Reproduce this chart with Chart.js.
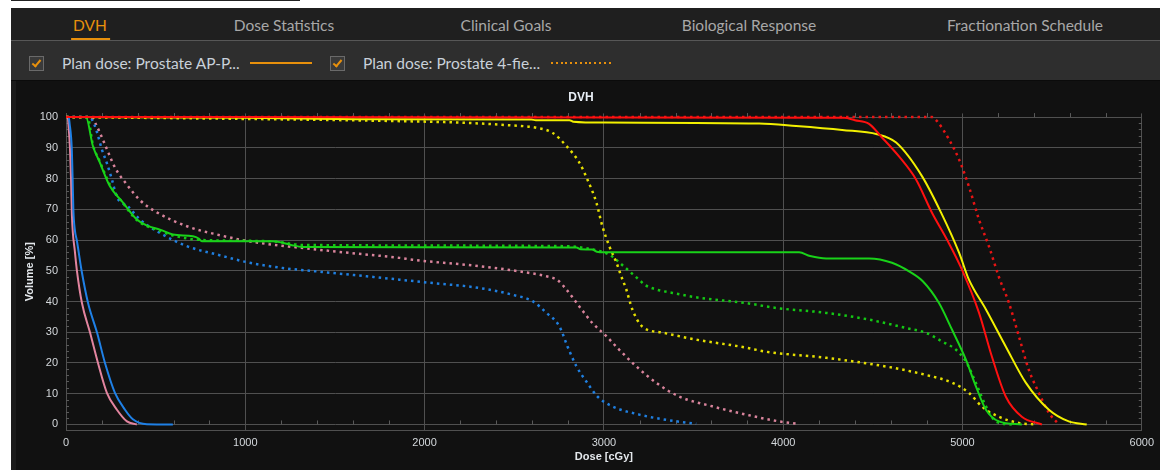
<!DOCTYPE html>
<html>
<head>
<meta charset="utf-8">
<title>DVH</title>
<script src="https://cdn.jsdelivr.net/npm/chart.js@4.4.0/dist/chart.umd.min.js"></script>
<style>
  html, body { margin: 0; padding: 0; background: #fff; width: 1160px; height: 470px; overflow: hidden; }
  .topline { position: absolute; left: 11px; top: 0; width: 289px; height: 1px; background: #222; }
  .panel { position: absolute; left: 11px; top: 8px; width: 1149px; height: 462px; background: #111; }
  .tabs { position: absolute; left: 0; top: 0; width: 100%; height: 32px; background: #1f1f1f; border-bottom: 1px solid #575757; }
  .tab { position: absolute; top: 0; font: 15.5px Lato, sans-serif; line-height: 35px; transform: translateX(-50%); color: #a8a8a8; white-space: nowrap; }
  .tab.active { color: #e8900c; }
  .tab.active::after { content: ''; position: absolute; left: -2px; right: -3px; bottom: 3px; height: 2px; background: #e8900c; }
  .legendrow { position: absolute; left: 0; top: 33px; width: 100%; height: 39px; background: #2e2e2e; border-bottom: 1px solid #0b0b0b; }
  .chk { position: absolute; top: 15px; width: 13px; height: 13px; border: 1px solid #6a6a6a; background: #3a3a3a; }
  .chk::after { content: ''; position: absolute; left: 4px; top: 1px; width: 3px; height: 7px; border-right: 2px solid #e8900c; border-bottom: 2px solid #e8900c; transform: rotate(40deg); }
  .ltext { position: absolute; top: 0; font: 15.5px Lato, sans-serif; line-height: 44px; color: #c9d1da; white-space: nowrap; }
  .lsolid { position: absolute; top: 21px; height: 2px; background: #e8900c; }
  .ldot { position: absolute; top: 21px; height: 2px; background: repeating-linear-gradient(90deg, #e8900c 0 2px, transparent 2px 4.8px); }
  .chartbox { position: absolute; left: 0; top: 73px; width: 1149px; height: 389px; background: #111; border-left: 5px solid #1b1b1b; box-sizing: border-box; }
  .chartwrap { position: absolute; left: 9px; top: 73px; width: 1140px; height: 389px; }
</style>
</head>
<body>
<div class="topline"></div>
<div class="panel">
  <div class="tabs">
    <div class="tab active" style="left:79px">DVH</div>
    <div class="tab" style="left:273px">Dose Statistics</div>
    <div class="tab" style="left:495px">Clinical Goals</div>
    <div class="tab" style="left:738px">Biological Response</div>
    <div class="tab" style="left:1014px">Fractionation Schedule</div>
  </div>
  <div class="legendrow">
    <div class="chk" style="left:18px"></div>
    <div class="ltext" style="left:51px">Plan dose: Prostate AP-P...</div>
    <div class="lsolid" style="left:239px; width:62px"></div>
    <div class="chk" style="left:319px"></div>
    <div class="ltext" style="left:352px">Plan dose: Prostate 4-fie...</div>
    <div class="ldot" style="left:540px; width:62px"></div>
  </div>
  <div class="chartbox"></div>
  <div class="chartwrap"><canvas id="dvhChart"></canvas></div>
</div>

<script>
// === DATOS ===
const xTickValues = [0, 1000, 2000, 3000, 4000, 5000, 6000];
const yTickValues = [0, 10, 20, 30, 40, 50, 60, 70, 80, 90, 100];

// plan 1 (linea continua)
const redApDose = [0, 4340, 4400, 4479, 4546, 4646, 4741, 4830, 4914, 4997, 5092, 5164, 5242, 5331, 5443];
const redApVol  = [100, 99.8, 99.0, 97.8, 93.7, 87.2, 79.7, 68.9, 60.1, 50.4, 36.4, 22.1, 9.0, 2.5, 0];

const yellowApDose = [0, 1000, 1749, 2596, 2620, 2808, 2830, 3003, 3866, 4072, 4329, 4524, 4630, 4774, 4880, 4981, 5036, 5131, 5242, 5353, 5482, 5593, 5693];
const yellowApVol  = [100, 99.8, 99.3, 99.2, 99.0, 99.0, 98.5, 98.2, 97.9, 97.1, 95.8, 94.4, 91.7, 80.8, 69.0, 55.9, 47.1, 37.4, 25.3, 13.6, 4.8, 1.0, 0];

const greenApDose = [0, 111, 150, 189, 245, 318, 395, 460, 524, 596, 708, 740, 758, 1155, 1250, 1320, 2847, 2870, 2936, 2960, 3003, 4089, 4150, 4240, 4479, 4607, 4702, 4780, 4869, 4942, 5019, 5075, 5131, 5203, 5331];
const greenApVol  = [100, 100, 90.6, 85.2, 77.5, 72.2, 66.7, 64.5, 63.4, 61.8, 61.2, 60.5, 59.6, 59.6, 58.5, 57.7, 57.6, 57.0, 56.9, 56.2, 56.0, 56.0, 54.8, 54.0, 54.0, 52.6, 49.8, 46.5, 39.5, 30.8, 21.1, 12.4, 4.8, 1.0, 0];

const blueApDose = [0, 15, 20, 32, 37, 41, 50, 60, 87, 123, 173, 217, 273, 329, 373, 451, 596];
const blueApVol  = [100, 100, 98, 90, 80, 70, 63, 60, 50, 39.5, 29.9, 20.1, 10.3, 4.8, 1.7, 0.1, 0];

const pinkApDose = [0, 10, 13, 22, 28, 33, 50, 61, 89, 134, 178, 228, 284, 340, 395];
const pinkApVol  = [100, 100, 98, 90, 80, 68, 56, 50, 39.5, 29.9, 20.1, 10.3, 4.8, 1.0, 0];

// plan 2 (punteada)
const red4fDose = [0, 4830, 4858, 4925, 4981, 5036, 5092, 5148, 5203, 5259, 5315, 5370, 5426, 5482, 5538];
const red4fVol  = [100, 100, 98.7, 92.7, 86.2, 77.4, 66.7, 57.9, 48.0, 39.6, 28.6, 17.8, 10.3, 3.8, 0];

const yellow4fDose = [0, 1000, 1749, 2195, 2457, 2624, 2713, 2791, 2863, 2908, 2958, 2992, 3031, 3070, 3095, 3125, 3159, 3215, 3326, 3515, 3794, 3900, 4240, 4607, 4797, 4942, 5036, 5109, 5203, 5315, 5409];
const yellow4fVol  = [100, 99.4, 98.8, 98.2, 97.4, 96.5, 94.9, 90.6, 85.2, 79.7, 72.2, 64.4, 57.9, 52.7, 48.5, 43.9, 37.4, 31.8, 29.9, 27.6, 25.0, 23.7, 21.7, 18.5, 16.1, 13.6, 10.3, 5.8, 2.5, 0.5, 0];

const green4fDose = [0, 120, 150, 189, 245, 318, 395, 524, 596, 760, 1150, 1320, 2800, 2930, 3000, 3050, 3086, 3159, 3198, 3226, 3293, 3382, 3532, 3794, 3961, 4240, 4479, 4685, 4797, 4886, 4964, 5019, 5075, 5131, 5186, 5276];
const green4fVol  = [100, 100, 91, 85.5, 78, 72, 66.5, 63, 61.5, 60, 59.6, 58.4, 58, 57, 56, 54.5, 52.7, 49, 47, 45.5, 43.9, 42.8, 41.2, 39.5, 37.9, 36.3, 34.1, 31.4, 29.8, 27, 24.3, 20.5, 13.5, 5.9, 1.0, 0];

const blue4fDose = [0, 120, 145, 173, 200, 228, 256, 284, 345, 412, 524, 674, 841, 1025, 1209, 1398, 1677, 1861, 2028, 2306, 2490, 2602, 2680, 2752, 2797, 2847, 2902, 2964, 3047, 3198, 3348, 3515];
const blue4fVol  = [100, 100, 99.2, 95, 89.5, 85, 79.7, 74, 71, 66.7, 62.3, 58, 55.3, 52.6, 50.9, 49.8, 48.2, 47.1, 46.1, 44.4, 42.2, 40.1, 36.3, 31.9, 25.4, 18.9, 14, 9.1, 5.9, 3.2, 1.5, 0.2];

const pink4fDose = [0, 140, 162, 217, 273, 340, 412, 507, 674, 841, 1042, 1304, 1582, 1861, 1933, 2306, 2529, 2680, 2740, 2791, 2863, 2936, 3014, 3086, 3181, 3293, 3420, 3604, 3794, 3978, 4089];
const pink4fVol  = [100, 100, 98.2, 91.1, 83.6, 78, 73, 69, 64.5, 61.8, 59.4, 57.5, 55.8, 54.2, 53.6, 51.5, 49.8, 48.2, 47, 43.9, 38.4, 33, 28.7, 24.3, 18.9, 13.5, 9.1, 5.9, 3.2, 1.0, 0.2];

const curves = [
  { label: 'PTV AP-PA',     dose: redApDose,    vol: redApVol,    color: '#ff1010', dotted: false },
  { label: 'CTV AP-PA',     dose: yellowApDose, vol: yellowApVol, color: '#f2f000', dotted: false },
  { label: 'Bladder AP-PA', dose: greenApDose,  vol: greenApVol,  color: '#19d219', dotted: false },
  { label: 'FemurL AP-PA',  dose: blueApDose,   vol: blueApVol,   color: '#1f80e6', dotted: false },
  { label: 'FemurR AP-PA',  dose: pinkApDose,   vol: pinkApVol,   color: '#e2849f', dotted: false },
  { label: 'PTV 4-field',     dose: red4fDose,    vol: red4fVol,    color: '#e81414', dotted: true },
  { label: 'CTV 4-field',     dose: yellow4fDose, vol: yellow4fVol, color: '#e6e000', dotted: true },
  { label: 'Bladder 4-field', dose: green4fDose,  vol: green4fVol,  color: '#14c814', dotted: true },
  { label: 'FemurL 4-field',  dose: blue4fDose,   vol: blue4fVol,   color: '#1f7fe0', dotted: true },
  { label: 'FemurR 4-field',  dose: pink4fDose,   vol: pink4fVol,   color: '#d9849c', dotted: true }
];

// ticks menores (cada 200 cGy / cada 2 %)
const minorTicks = {
  id: 'minorTicks',
  beforeDatasetsDraw(chart) {
    const { ctx, scales: { x, y } } = chart;
    ctx.save();
    ctx.strokeStyle = '#5a5a5a';
    ctx.lineWidth = 1;
    ctx.beginPath();
    for (let d = 200; d < 6000; d += 200) {
      if (d % 1000 === 0) continue;
      const px = Math.round(x.getPixelForValue(d)) + 0.5;
      [0, 100].forEach(v => {
        const py = y.getPixelForValue(v);
        ctx.moveTo(px, py);
        ctx.lineTo(px, py - 4);
      });
    }
    for (let v = 2; v < 100; v += 2) {
      if (v % 10 === 0) continue;
      const py = Math.round(y.getPixelForValue(v)) + 0.5;
      ctx.moveTo(x.left, py); ctx.lineTo(x.left + 3, py);
      ctx.moveTo(x.right, py); ctx.lineTo(x.right - 3, py);
    }
    ctx.stroke();
    ctx.restore();
  }
};

const tickFont = { family: 'Liberation Sans, Arial, sans-serif', size: 11 };
const titleFont = { family: 'Liberation Sans, Arial, sans-serif', size: 11, weight: 'bold' };

new Chart(document.getElementById('dvhChart'), {
  type: 'line',
  data: {
    datasets: curves.map(c => ({
      label: c.label,
      data: c.dose.map((d, i) => ({ x: d, y: c.vol[i] })),
      borderColor: c.color,
      borderWidth: c.dotted ? 2.5 : 2,
      borderDash: c.dotted ? [2.5, 4] : [],
      pointRadius: 0,
      cubicInterpolationMode: 'monotone',
      fill: false
    }))
  },
  options: {
    responsive: true,
    maintainAspectRatio: false,
    animation: false,
    layout: { padding: { left: 0, right: 18, top: 0, bottom: 0 } },
    plugins: {
      legend: { display: false },
      tooltip: { enabled: false },
      title: {
        display: true,
        text: 'DVH',
        color: '#e8eef5',
        font: { family: 'Liberation Sans, Arial, sans-serif', size: 12, weight: 'bold' },
        padding: { top: 9, bottom: 9 }
      }
    },
    scales: {
      x: {
        type: 'linear',
        min: 0,
        max: 6000,
        afterBuildTicks: s => { s.ticks = xTickValues.map(v => ({ value: v })); },
        afterFit: s => { s.height = 40; },
        ticks: { color: '#d4d8dc', font: tickFont, padding: 6, maxRotation: 0, callback: v => String(v) },
        grid: { color: '#505050', lineWidth: 1, drawTicks: false },
        border: { color: '#505050' },
        title: { display: true, text: 'Dose [cGy]', color: '#e4e8ec', font: titleFont, padding: { top: 0, bottom: 6 } }
      },
      y: {
        min: -1.8,
        max: 101.2,
        afterBuildTicks: s => { s.ticks = yTickValues.map(v => ({ value: v })); },
        afterFit: s => { s.width = 46; },
        ticks: { color: '#d4d8dc', font: tickFont, padding: 8, callback: v => String(v) },
        grid: { color: '#505050', lineWidth: 1, drawTicks: false },
        border: { color: '#505050' },
        title: { display: true, text: 'Volume [%]', color: '#e4e8ec', font: titleFont, padding: { top: 3, bottom: 0 } }
      }
    }
  },
  plugins: [minorTicks]
});
</script>
</body>
</html>
